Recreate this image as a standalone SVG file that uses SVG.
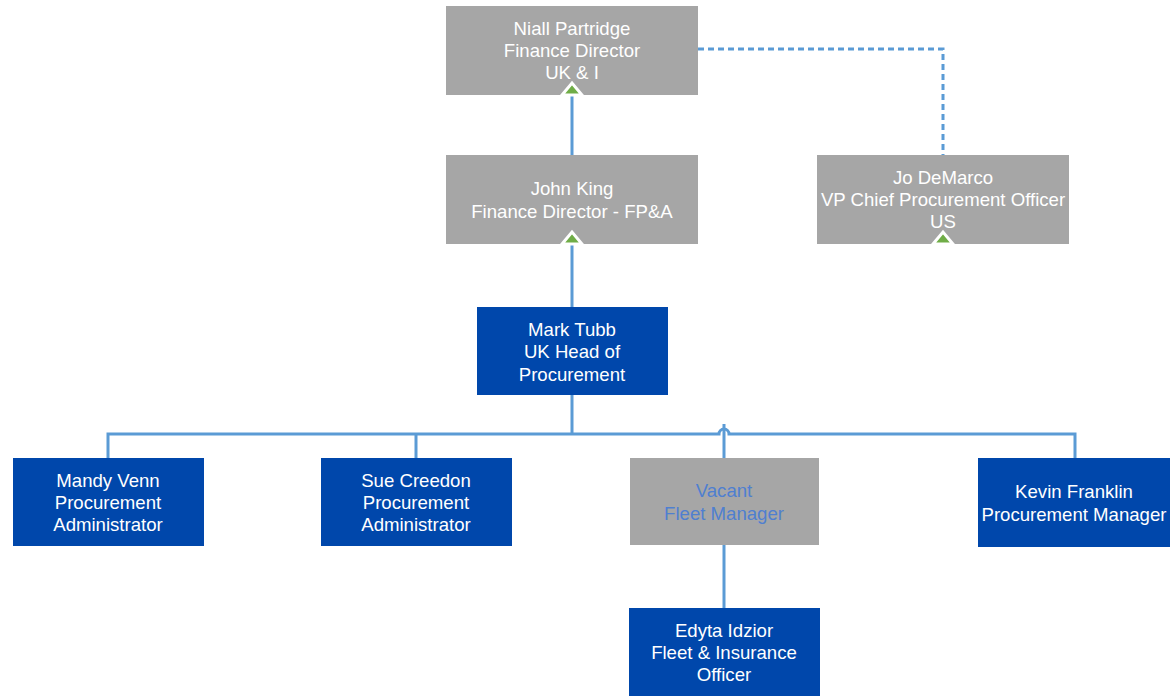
<svg xmlns="http://www.w3.org/2000/svg" width="1173" height="696" viewBox="0 0 1173 696">
<style>
.grey{fill:#A6A6A6}
.blue{fill:#0047AB}
text{font-family:"Liberation Sans",Arial,sans-serif;font-size:18.6px;text-anchor:middle;fill:#FFFFFF}
.vac{fill:#4F7FD0}
.ln{fill:none;stroke:#5B9BD5;stroke-width:3}
.dash{stroke-dasharray:6,4}
.arr{fill:#70AD47;stroke:#FFFFFF;stroke-width:3;stroke-linejoin:miter}
</style>
<rect width="1173" height="696" fill="#FFFFFF"/>
<g id="connectors">
<path class="ln" d="M572,307 V244"/>
<path class="ln" d="M572,155 V95"/>
<path class="ln dash" d="M698,49 H943 V155"/>
<path class="ln" d="M572,395 V434"/>
<path class="ln" d="M108,458 V434 H719 A5,5 0 0 1 729,434 H1075 V458"/>
<path class="ln" d="M416,434 V458"/>
<path class="ln" d="M724,424 V458"/>
<path class="ln" d="M724,545 V608"/>
</g>
<g id="niall">
<rect class="grey" x="446" y="6" width="252" height="89"/>
<text x="572" y="35">Niall Partridge</text>
<text x="572" y="57">Finance Director</text>
<text x="572" y="79">UK &amp; I</text>
<path class="arr" d="M562,95 L572,83 L582,95 Z"/>
</g>
<g id="john">
<rect class="grey" x="446" y="155" width="252" height="89"/>
<text x="572" y="195">John King</text>
<text x="572" y="218">Finance Director - FP&amp;A</text>
<path class="arr" d="M562,244 L572,232 L582,244 Z"/>
</g>
<g id="jo">
<rect class="grey" x="817" y="155" width="252" height="89"/>
<text x="943" y="184">Jo DeMarco</text>
<text x="943" y="206">VP Chief Procurement Officer</text>
<text x="943" y="228">US</text>
<path class="arr" d="M933,244 L943,232 L953,244 Z"/>
</g>
<g id="mark">
<rect class="blue" x="477" y="307" width="191" height="88"/>
<text x="572" y="336">Mark Tubb</text>
<text x="572" y="358">UK Head of</text>
<text x="572" y="381">Procurement</text>
</g>
<g id="mandy">
<rect class="blue" x="13" y="458" width="191" height="88"/>
<text x="108" y="487">Mandy Venn</text>
<text x="108" y="509">Procurement</text>
<text x="108" y="531">Administrator</text>
</g>
<g id="sue">
<rect class="blue" x="321" y="458" width="191" height="88"/>
<text x="416" y="487">Sue Creedon</text>
<text x="416" y="509">Procurement</text>
<text x="416" y="531">Administrator</text>
</g>
<g id="vacant">
<rect class="grey" x="630" y="458" width="189" height="87"/>
<text class="vac" x="724" y="497">Vacant</text>
<text class="vac" x="724" y="520">Fleet Manager</text>
</g>
<g id="kevin">
<rect class="blue" x="978" y="458" width="192" height="89"/>
<text x="1074" y="498">Kevin Franklin</text>
<text x="1074" y="521">Procurement Manager</text>
</g>
<g id="edyta">
<rect class="blue" x="629" y="608" width="191" height="88"/>
<text x="724" y="637">Edyta Idzior</text>
<text x="724" y="659">Fleet &amp; Insurance</text>
<text x="724" y="681">Officer</text>
</g>
</svg>
